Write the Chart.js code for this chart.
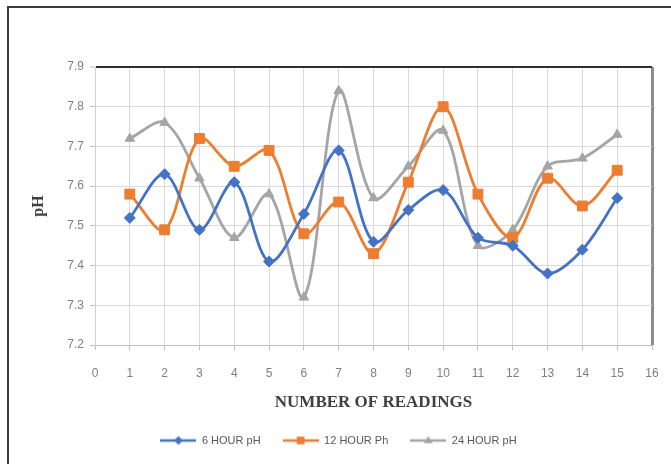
<!DOCTYPE html>
<html>
<head>
<meta charset="utf-8">
<script src="https://cdn.jsdelivr.net/npm/chart.js@4/dist/chart.umd.min.js"></script>
<style>
  html, body { margin: 0; padding: 0; background: #ffffff; }
  #wrap { position: relative; width: 671px; height: 464px; overflow: hidden; }
  #frame {
    position: absolute; left: 7px; top: 6px; width: 670px; height: 462px;
    border-top: 2px solid #3c3c3c; border-left: 2px solid #3c3c3c;
    border-right: 1px solid #ececec; border-bottom: 1px solid #ececec;
    box-sizing: border-box; pointer-events: none;
  }
  canvas { position: absolute; left: 0; top: 0; }
</style>
</head>
<body>
<div id="wrap">
  <canvas id="chart" width="671" height="464"></canvas>
  <div id="frame"></div>
</div>
<script>
// Reading numbers along the x axis
const readings = [1, 2, 3, 4, 5, 6, 7, 8, 9, 10, 11, 12, 13, 14, 15];

// pH measured after each holding time
const ph6h  = [7.52, 7.63, 7.49, 7.61, 7.41, 7.53, 7.69, 7.46, 7.54, 7.59, 7.47, 7.45, 7.38, 7.44, 7.57];
const ph12h = [7.58, 7.49, 7.72, 7.65, 7.69, 7.48, 7.56, 7.43, 7.61, 7.80, 7.58, 7.47, 7.62, 7.55, 7.64];
const ph24h = [7.72, 7.76, 7.62, 7.47, 7.58, 7.32, 7.84, 7.57, 7.65, 7.74, 7.45, 7.49, 7.65, 7.67, 7.73];

const seriesNames = ['6 HOUR pH', '12 HOUR Ph', '24 HOUR pH'];
const seriesColors = ['#4472C4', '#ED7D31', '#A5A5A5'];
const seriesMarkers = ['rectRot', 'rect', 'triangle'];
const markerRadius = [5.5, 7, 5.5];

// Axis ranges
const xMin = 0, xMax = 16, xStep = 1;
const yMin = 7.2, yMax = 7.9, yStep = 0.1;

const toPoints = vals => readings.map((r, i) => ({ x: r, y: vals[i] }));

// Small legend swatch: a line segment with the series marker in its middle
function legendSwatch(color, marker, radius) {
  const c = document.createElement('canvas');
  c.width = 36; c.height = 14;
  const g = c.getContext('2d');
  g.strokeStyle = color; g.lineWidth = 2.5;
  g.beginPath(); g.moveTo(0, 7); g.lineTo(36, 7); g.stroke();
  g.fillStyle = color;
  g.beginPath();
  if (marker === 'rectRot') {
    const s = radius * 0.8;
    g.moveTo(18, 7 - s); g.lineTo(18 + s, 7); g.lineTo(18, 7 + s); g.lineTo(18 - s, 7);
  } else if (marker === 'rect') {
    const s = radius * 0.55; g.rect(18 - s, 7 - s, 2 * s, 2 * s);
  } else {
    const s = radius * 0.8; g.moveTo(18, 7 - s); g.lineTo(18 + s, 7 + s * 0.6); g.lineTo(18 - s, 7 + s * 0.6);
  }
  g.closePath(); g.fill();
  return c;
}

const datasets = [ph6h, ph12h, ph24h].map((vals, i) => ({
  label: seriesNames[i],
  data: toPoints(vals),
  borderColor: seriesColors[i],
  backgroundColor: seriesColors[i],
  borderWidth: 2.8,
  pointStyle: seriesMarkers[i],
  pointRadius: markerRadius[i],
  pointBorderWidth: 1,
  pointBorderColor: seriesColors[i],
  pointBackgroundColor: seriesColors[i],
  tension: 0.33,
  fill: false
}));

const tickFont = { family: 'Liberation Sans', size: 12 };
const tickColor = '#7f7f7f';

new Chart(document.getElementById('chart'), {
  type: 'line',
  data: { datasets },
  options: {
    responsive: false,
    animation: false,
    layout: { padding: { left: 25, right: 19, top: 67, bottom: 8 } },
    scales: {
      x: {
        type: 'linear',
        min: xMin, max: xMax,
        afterFit: s => { s.height = 68; s.paddingLeft = 0; s.paddingRight = 0; },
        ticks: { stepSize: xStep, color: tickColor, font: tickFont, padding: 16, maxRotation: 0, minRotation: 0 },
        grid: {
          color: c => (c.tick && c.tick.value === xMax) ? '#8c8c8c' : '#d9d9d9',
          lineWidth: c => (c.tick && c.tick.value === xMax) ? 3 : 1,
          tickLength: 5, tickWidth: 1, tickColor: '#bfbfbf'
        },
        border: { color: '#bfbfbf', width: 1 },
        title: {
          display: true, text: 'NUMBER OF READINGS', color: '#404040',
          font: { family: 'Liberation Serif', size: 17, weight: 'bold' },
          padding: { top: 4, bottom: 0 }
        }
      },
      y: {
        min: yMin, max: yMax,
        afterFit: s => { s.width = 70; },
        ticks: {
          stepSize: yStep, color: tickColor, font: tickFont, padding: 6,
          callback: v => v.toFixed(1)
        },
        grid: {
          color: c => (c.tick && Math.abs(c.tick.value - yMax) < 1e-6) ? '#2e2e2e' : '#d9d9d9',
          lineWidth: c => (c.tick && Math.abs(c.tick.value - yMax) < 1e-6) ? 2 : 1,
          tickLength: 5, tickWidth: 1, tickColor: '#bfbfbf'
        },
        border: { color: '#d0d0d0', width: 1 },
        title: {
          display: true, text: 'pH', color: '#404040',
          font: { family: 'Liberation Serif', size: 16, weight: 'bold' },
          padding: { top: 4, bottom: 4 }
        }
      }
    },
    plugins: {
      legend: {
        position: 'bottom',
        labels: {
          usePointStyle: true,
          pointStyleWidth: 36,
          padding: 22,
          color: '#595959',
          font: { family: 'Liberation Sans', size: 11 },
          generateLabels: chart => chart.data.datasets.map((d, i) => ({
            text: d.label,
            fillStyle: d.borderColor,
            strokeStyle: d.borderColor,
            fontColor: '#595959',
            pointStyle: legendSwatch(seriesColors[i], seriesMarkers[i], markerRadius[i]),
            datasetIndex: i,
            hidden: false,
            lineWidth: 0
          }))
        }
      },
      tooltip: { enabled: false }
    }
  }
});
</script>
</body>
</html>
